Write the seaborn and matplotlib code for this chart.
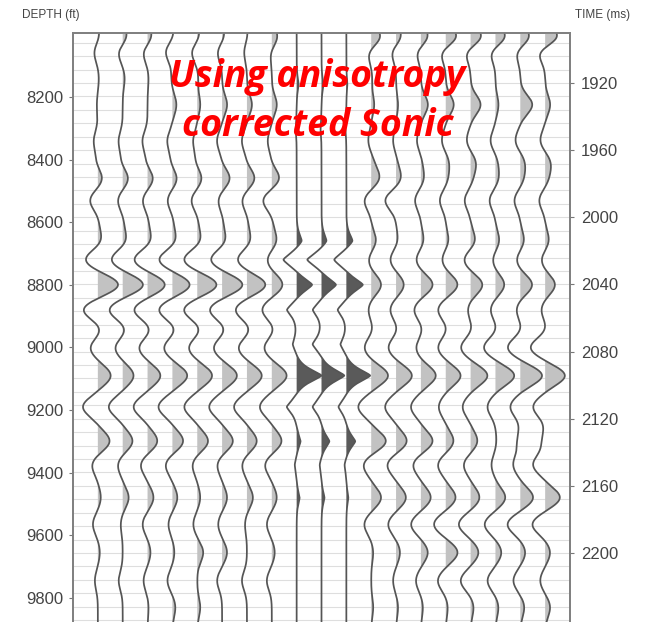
import numpy as np
import pandas as pd
import matplotlib
matplotlib.use("Agg")
import matplotlib.pyplot as plt
from matplotlib.ticker import MultipleLocator, FixedLocator
import seaborn as sns

# ---- data -------------------------------------------------------------
# Reflection event depths (ft) picked on the seismic traces
seis_depths = [8010, 8055, 8140, 8225, 8340, 8410, 8460, 8530, 8600, 8660,
               8720, 8800, 8880, 8945, 9000, 9090, 9190, 9300, 9375, 9480,
               9565, 9655, 9745, 9830]

# Event amplitudes for each seismic trace (one list per trace, same order as seis_depths)
left_traces = {
    1: [2, -4, 1, -1, -4, -2, 5, -8, 1, 4, -13, 21, -15, 4, -8, 13, -15, 12, -6, 3, -5, 2, -3, 0],
    2: [5, -5, 2, 0, -4, -2, 6, -5, 1, 4, -12, 21, -14, 4, -8, 11, -14, 10, -5, 6, -2, 0, -4, 0],
    3: [5, -5, 1, 0, -5, -2, 6, -5, 1, 4, -14, 18, -14, 4, -9, 13, -14, 10, -7, 6, -5, 3, -4, 1],
    4: [2, -7, -1, 4, -5, -2, 5, -5, 1, 4, -14, 18, -14, 4, -9, 15, -14, 11, -7, 5, -4, 2, -5, 3],
    5: [3, -6, 1, 3, -4, -2, 5, -6, 1, 4, -14, 20, -14, 4, -9, 15, -13, 11, -5, 3, -4, 6, 0, 3],
    6: [3, -5, 0, 5, -5, -1, 8, -4, 1, 4, -12, 21, -13, 4, -9, 15, -13, 11, -5, 5, -4, 5, -5, 0],
    7: [1, -3, 0, 5, -5, -1, 8, -5, 1, 4, -10, 19, -12, 4, -9, 15, -13, 10, -5, 6, -2, 0, -5, 0],
    8: [6, -2, 0, 5, -4, -1, 8, -9, 1, 5, -5, 11, -10, 3, -8, 15, -12, 10, -7, 5, -5, 3, -5, 0],
}
right_traces = {
    12: [10, -4, 1, 3, -3, 2, 8, -7, 0, 5, -3, 10, -3, 2, -7, 17, -13, 15, -8, 10, -7, 2, 0, 2],
    13: [6, -5, 0, 2, -3, 1, 5, -11, 0, 2, -6, 8, -6, 2, -8, 16, -11, 11, -9, 10, -8, 4, -3, 2],
    14: [8, -5, 0, 7, -4, 1, 3, -6, 0, 3, -5, 12, -7, 2, -5, 15, -10, 12, -8, 10, -10, 7, -5, 2],
    15: [12, -6, 0, 8, -4, 3, 2, -6, 0, 3, -4, 12, -8, 2, -8, 15, -7, 8, -8, 10, -12, 12, -8, 2],
    16: [12, -6, 0, 10, -4, 5, 2, -6, 0, 5, -7, 12, -3, 2, -10, 17, -8, 7, -7, 9, -12, 8, -10, 3],
    17: [11, -6, 0, 3, -5, 2, 3, -6, 0, 4, -3, 9, -5, 2, -12, 19, -8, 1, -4, 10, -11, 6, -8, 3],
    18: [10, -5, 0, 12, -5, 4, 3, -6, 0, 4, -4, 12, -4, 2, -13, 22, -10, -3, -7, 13, -13, 5, -7, 4],
    19: [14, -8, 0, 5, -5, 5, 3, -6, 0, 4, -4, 10, -4, 2, -15, 20, -12, -3, -12, 15, -13, 5, -5, 5],
}

# Synthetic seismogram from the anisotropy corrected sonic (repeated three times)
synth_depths = [8160, 8300, 8660, 8720, 8800, 8880, 8990, 9090, 9190, 9300, 9375, 9480]
synth_traces = {
    9:  [2, -1, 6, -14, 16, -10, -4, 25, -10, 4, -2, 3],
    10: [2, -1, 6, -15, 15, -9, -9, 23, -9, 8, -2, 3],
    11: [1, -1, 7, -13, 17, -9, -6, 24, -8, 9, -2, 2],
}

depth_ticks = [8200, 8400, 8600, 8800, 9000, 9200, 9400, 9600, 9800]
time_ticks = [1920, 1960, 2000, 2040, 2080, 2120, 2160, 2200]

# ---- build wiggle traces ------------------------------------------------
depth_lim = (9877, 7996)
time_lim = (2241.1, 1890.2)
z = np.linspace(depth_lim[1], depth_lim[0], 1500)
gain = 1.0 / 25.0          # amplitude units per trace spacing


def wiggle(depths, amps, width, sharp=False):
    d = z[:, None] - np.asarray(depths, float)[None, :]
    if sharp:
        kern = np.exp(-np.abs(d / width) ** 1.4)
    else:
        kern = np.exp(-(d / width) ** 2)
    return kern @ np.asarray(amps, float)


rows = []
traces = []
for pos, amps in {**left_traces, **right_traces}.items():
    x = pos + gain * wiggle(seis_depths, amps, 42.0)
    traces.append((pos, x, "#c2c2c2"))
for pos, amps in synth_traces.items():
    x = pos + gain * wiggle(synth_depths, amps, 30.0, sharp=True)
    traces.append((pos, x, "#5a5a5a"))

for pos, x, _ in traces:
    rows.append(pd.DataFrame({"trace": pos, "x": x, "depth": z}))
df = pd.concat(rows, ignore_index=True)

# ---- figure -------------------------------------------------------------
sns.set_theme(style="white")
plt.rcParams["font.family"] = ["Liberation Sans", "DejaVu Sans"]

fig = plt.figure(figsize=(6.51, 6.22), dpi=100)
ax = fig.add_axes([73 / 651, 0.0, (570 - 73) / 651, 1 - 33 / 622])
ax2 = ax.twinx()

# time grid sits behind the traces
ax.set_zorder(ax2.get_zorder() + 1)
ax.patch.set_visible(False)
ax2.set_ylim(*time_lim)
ax2.yaxis.set_major_locator(FixedLocator(time_ticks))
ax2.yaxis.set_minor_locator(MultipleLocator(8))
ax2.grid(which="both", axis="y", color="#dedede", linewidth=0.8)
ax2.grid(which="both", axis="x", visible=False)

for pos, x, fc in traces:
    ax.fill_betweenx(z, pos, x, where=x > pos, interpolate=True,
                     color=fc, linewidth=0)

sns.lineplot(data=df, x="x", y="depth", units="trace", estimator=None,
             orient="y", color="#555555", linewidth=1.25, ax=ax, legend=False)

ax.set_xlim(0, 20)
ax.set_ylim(*depth_lim)
ax.set_xticks([])
ax.set_xlabel("")
ax.set_ylabel("")
ax.yaxis.set_major_locator(FixedLocator(depth_ticks))
ax.tick_params(axis="y", which="major", left=True, length=3, width=0.8,
               color="#777777", labelsize=12, labelcolor="#444444", pad=4)
ax2.tick_params(axis="y", which="major", right=True, length=3, width=0.8,
                color="#777777", labelsize=12, labelcolor="#444444", pad=5)
ax2.tick_params(axis="y", which="minor", right=False, length=0)
ax2.set_xticks([])

for a in (ax, ax2):
    for side in ("left", "right", "top"):
        a.spines[side].set_visible(True)
        a.spines[side].set_color("#808080")
        a.spines[side].set_linewidth(1.3)
    a.spines["bottom"].set_visible(False)

fig.text(22 / 651, 1 - 15 / 622, "DEPTH (ft)", fontsize=8.5, color="#444444",
         ha="left", va="center")
fig.text(575 / 651, 1 - 15 / 622, "TIME (ms)", fontsize=8.5, color="#444444",
         ha="left", va="center")

red = dict(color="#ff0000", fontweight="bold", fontstyle="italic",
           family=["Open Sans", "DejaVu Sans"], fontsize=27, ha="center", va="center")
fig.text(317 / 651, 1 - 77 / 622, "Using anisotropy", **red)
fig.text(318 / 651, 1 - 126 / 622, "corrected Sonic", **red)

fig.savefig("out.png", dpi=100)
